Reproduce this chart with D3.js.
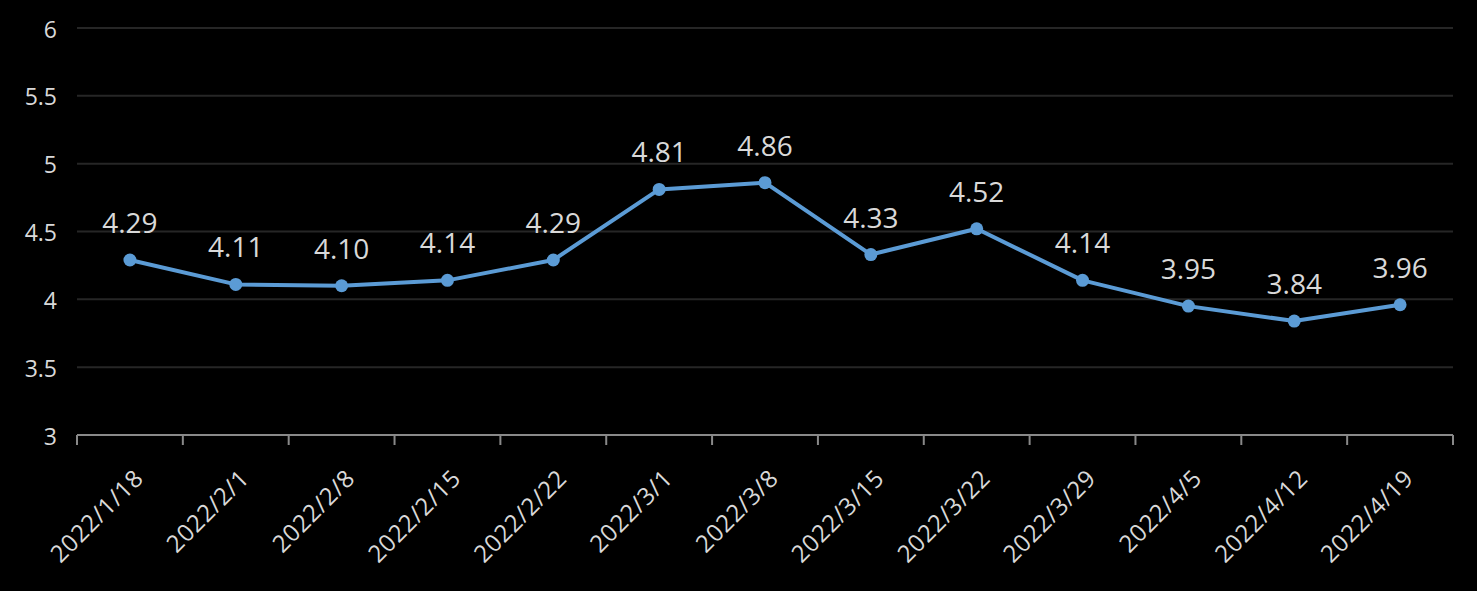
<!DOCTYPE html>
<html><head><meta charset="utf-8">
<script src="https://cdn.jsdelivr.net/npm/d3@7"></script>
<style>html,body{margin:0;padding:0;background:#000;}svg{display:block;}</style>
</head><body>
<svg id="c" width="1477" height="591"></svg>
<script>
const categories = ["2022/1/18","2022/2/1","2022/2/8","2022/2/15","2022/2/22","2022/3/1","2022/3/8","2022/3/15","2022/3/22","2022/3/29","2022/4/5","2022/4/12","2022/4/19"];
const values = [4.29,4.11,4.10,4.14,4.29,4.81,4.86,4.33,4.52,4.14,3.95,3.84,3.96];
const valueLabels = ["4.29","4.11","4.10","4.14","4.29","4.81","4.86","4.33","4.52","4.14","3.95","3.84","3.96"];
const yTicks = [3,3.5,4,4.5,5,5.5,6];

(function(){
const svg = d3.select("#c");
const pLeft = 77, pRight = 1453, pTop = 28, pBottom = 435;
const font = "'Open Sans', 'Noto Sans', sans-serif";
const x = d3.scaleBand().domain(categories).range([pLeft, pRight]);
const y = d3.scaleLinear().domain([3,6]).range([pBottom, pTop]);

svg.append("g").selectAll("line").data(yTicks.filter(t=>t>3)).join("line")
  .attr("x1", pLeft).attr("x2", pRight)
  .attr("y1", d=>y(d)).attr("y2", d=>y(d))
  .attr("stroke", "#262626").attr("stroke-width", 2);

svg.append("g").selectAll("text").data(yTicks).join("text")
  .attr("x", 57).attr("y", d=>y(d)).attr("dy","0.42em")
  .attr("text-anchor","end").attr("fill","#d9d9d9")
  .style("font-family", font).style("font-size","23px")
  .text(d=>d);

const xb = svg.append("g");
xb.append("line").attr("x1", pLeft).attr("x2", pRight).attr("y1", pBottom).attr("y2", pBottom)
  .attr("stroke","#898989").attr("stroke-width",2);
const bounds = categories.map(c=>x(c)).concat([pRight]);
xb.selectAll("line.t").data(bounds).join("line").attr("class","t")
  .attr("x1", d=>d).attr("x2", d=>d).attr("y1", pBottom).attr("y2", pBottom+10)
  .attr("stroke","#898989").attr("stroke-width",2);
xb.selectAll("text").data(categories).join("text")
  .attr("transform", d=>`translate(${x(d)+x.bandwidth()/2+3},${pBottom+33}) rotate(-45)`)
  .attr("text-anchor","end").attr("dy","0.7em")
  .attr("fill","#d9d9d9").style("font-family", font).style("font-size","24px")
  .style("letter-spacing","0.6px")
  .text(d=>d);

const cx = (d,i)=>x(categories[i])+x.bandwidth()/2;
svg.append("path").datum(values)
  .attr("d", d3.line().x((d,i)=>cx(d,i)).y(d=>y(d)))
  .attr("fill","none").attr("stroke","#5b9bd5").attr("stroke-width",4).attr("stroke-linejoin","round");
svg.append("g").selectAll("circle").data(values).join("circle")
  .attr("cx",(d,i)=>cx(d,i)).attr("cy",d=>y(d)).attr("r",6.5).attr("fill","#5b9bd5");
svg.append("g").selectAll("text").data(values).join("text")
  .attr("x",(d,i)=>cx(d,i)).attr("y",d=>y(d)-27)
  .attr("text-anchor","middle").attr("fill","#d9d9d9")
  .style("font-family", font).style("font-size","28px")
  .text((d,i)=>valueLabels[i]);
})();
</script>
</body></html>
